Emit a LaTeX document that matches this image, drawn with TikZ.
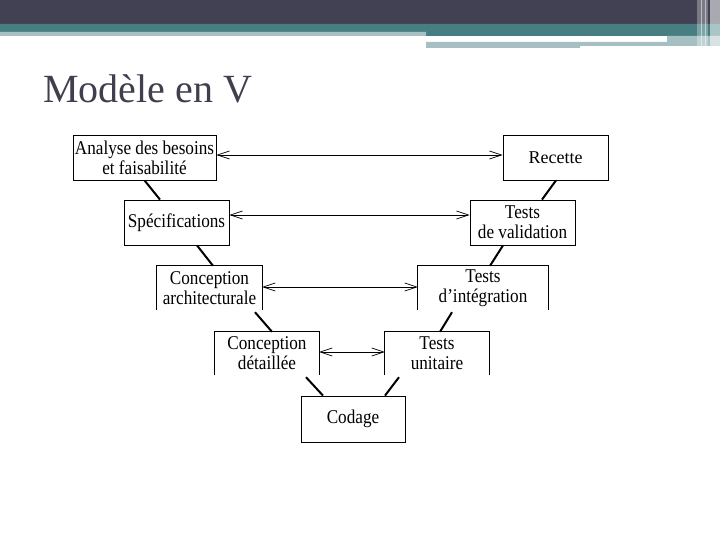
\documentclass[tikz,border=0pt]{standalone}
\usepackage{fontspec}
\setmainfont{Liberation Serif}
\newfontfamily\boitefont[FakeStretch=0.88]{Liberation Serif}
\usetikzlibrary{arrows.meta}
\definecolor{bandfonce}{HTML}{414153}
\definecolor{bandteal}{HTML}{467E82}
\definecolor{bandclair}{HTML}{A5BFC2}
\definecolor{titre}{HTML}{3F3F4E}
\begin{document}
\begin{tikzpicture}[x=1pt,y=-1pt,>={Straight Barb[length=12pt,width=8pt]},
			font=\boitefont\fontsize{19.5}{20}\selectfont,
			boite/.style={draw,line width=.8pt,align=center,inner sep=0pt},
			ouverte/.style={align=center,inner sep=0pt},
			lien/.style={line width=2pt},
			fleche/.style={<->,line width=.7pt}]
			\useasboundingbox (0,0) rectangle (720,540);
			\fill[bandfonce] (0,0) rectangle (720,24);
			\fill[bandteal] (0,24) rectangle (720,32) (426,32) rectangle (720,36);
			\fill[bandclair] (0,32) rectangle (426,36) (426,42) rectangle (580,48) (580,42) rectangle (720,46) (667,36) rectangle (720,46);
			\fill[white,opacity=.3] (697,0) rectangle (708,48);
			\fill[white,opacity=.55] (710,0) rectangle (720,48);
			\draw[white,opacity=.5] (701,0)--(701,48) (705,0)--(705,48);
			\node[anchor=base west,inner sep=0pt,font=\rmfamily\fontsize{40}{44}\selectfont,text=titre] (titre) at (43,103) {Modèle en V};
			\node[boite,minimum width=143pt,minimum height=45pt] (anal) at (144.5,157.5) {Analyse des besoins\\et faisabilité};
			\node[boite,minimum width=105pt,minimum height=45pt] (spec) at (176.5,222.5) {Spécifications};
			\node[ouverte,minimum width=105pt,minimum height=44pt] (arch) at (209.5,288) {Conception\\architecturale};
			\node[ouverte,minimum width=104pt,minimum height=43pt] (det) at (267,353.5) {Conception\\détaillée};
			\node[boite,minimum width=104pt,minimum height=46pt] (cod) at (353,419) {Codage};
			\node[ouverte,minimum width=104pt,minimum height=43pt] (unit) at (437,353.5) {Tests\\unitaire};
			\node[ouverte,minimum width=130pt,minimum height=44pt] (integ) at (483,288) {Tests\\d’intégration};
			\node[boite,minimum width=105pt,minimum height=45pt] (valid) at (522.5,222.5) {Tests\\de validation};
			\node[boite,minimum width=105pt,minimum height=45pt,font=\rmfamily\fontsize{18}{20}\selectfont] (rec) at (555.5,157.5) {Recette};
			\foreach \n in {arch,det,unit,integ}
				\draw[line width=.8pt] (\n.south west)--(\n.north west)--(\n.north east)--(\n.south east);
			\draw[lien] (anal.south)--([xshift=-16.5pt]spec.north);
			\draw[lien] ([xshift=20.5pt]spec.south)--([xshift=3.5pt]arch.north);
			\draw[lien] ([xshift=45.5pt,yshift=-2pt]arch.south)--([xshift=5pt]det.north);
			\draw[lien] ([xshift=39pt,yshift=-2pt]det.south)--([xshift=-30pt]cod.north);
			\draw[lien] ([xshift=32pt]cod.north)--([xshift=-38pt,yshift=-2pt]unit.south);
			\draw[lien] ([xshift=3pt]unit.north)--([xshift=-31pt,yshift=-2pt]integ.south);
			\draw[lien] ([xshift=7pt]integ.north)--([xshift=-19.5pt]valid.south);
			\draw[lien] ([xshift=19.5pt]valid.north)--([xshift=.5pt]rec.south);
			\draw[fleche] ([yshift=2.5pt]anal.east)--([yshift=2.5pt]rec.west);
			\draw[fleche] ([yshift=7.5pt]spec.east)--([yshift=7.5pt]valid.west);
			\draw[fleche] ([yshift=1pt]arch.east)--([yshift=1pt]integ.west);
			\draw[fleche] ([yshift=1.5pt]det.east)--([yshift=1.5pt]unit.west);
	\end{tikzpicture}
\end{document}
